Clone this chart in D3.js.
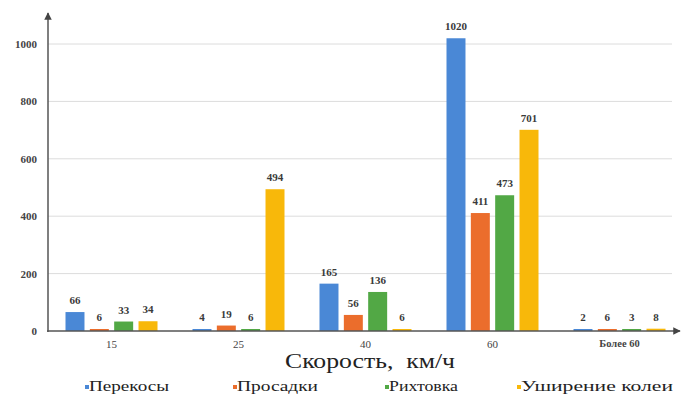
<!DOCTYPE html>
<html>
<head>
<meta charset="utf-8">
<script src="https://cdn.jsdelivr.net/npm/d3@7"></script>
<style>
  html, body { margin: 0; padding: 0; background: #fff; }
  svg { display: block; }
  svg text { font-family: "Liberation Serif", "Times New Roman", serif; }
</style>
</head>
<body>
<svg id="chart" width="683" height="396"></svg>
<script>
// Speed groups and defect counts per group
const categories = ["15", "25", "40", "60", "Более 60"];
const seriesNames = ["Перекосы", "Просадки", "Рихтовка", "Уширение колеи"];
const perekosy = [66, 4, 165, 1020, 2];
const prosadki = [6, 19, 56, 411, 6];
const rikhtovka = [33, 6, 136, 473, 3];
const ushirenie = [34, 494, 6, 701, 8];
const yTicks = [0, 200, 400, 600, 800, 1000];

const seriesValues = [perekosy, prosadki, rikhtovka, ushirenie];
const colors = ["#4a88d6", "#eb6d2c", "#52a845", "#f8b80a"];

const svg = d3.select("#chart");
const left = 48, right = 683, zeroY = 331, topY = 44;

const x = d3.scaleBand().domain(categories).range([left, right]).padding(0);
const inner = d3.scaleBand().domain(d3.range(4)).range([-46, 46]).paddingInner(0.22);
const y = d3.scaleLinear().domain([0, 1000]).range([zeroY, topY]);

// gridlines
svg.append("g")
  .selectAll("line")
  .data(yTicks.filter(d => d > 0))
  .join("line")
  .attr("x1", left).attr("x2", 672)
  .attr("y1", d => y(d)).attr("y2", d => y(d))
  .attr("stroke", "#dcdcdc").attr("stroke-width", 1);

// y tick labels
const yAxis = d3.axisLeft(y).tickValues(yTicks).tickFormat(d3.format("d")).tickSize(0).tickPadding(11);
const gy = svg.append("g").attr("transform", `translate(${left},0)`).call(yAxis);
gy.attr("font-family", null);
gy.select(".domain").remove();
gy.selectAll("text")
  .style("font-size", "11px")
  .style("font-weight", "bold")
  .attr("fill", "#444");

// bars
const groups = svg.append("g")
  .selectAll("g")
  .data(categories)
  .join("g")
  .attr("transform", d => `translate(${x(d) + x.bandwidth() / 2},0)`);

groups.selectAll("rect")
  .data((c, ci) => seriesValues.map((s, si) => ({ si, v: s[ci] })))
  .join("rect")
  .attr("x", d => inner(d.si))
  .attr("width", inner.bandwidth())
  .attr("y", d => Math.min(y(d.v), zeroY - 2))
  .attr("height", d => Math.max(zeroY - y(d.v), 2))
  .attr("fill", d => colors[d.si]);

// value labels
groups.selectAll("text")
  .data((c, ci) => seriesValues.map((s, si) => ({ si, v: s[ci] })))
  .join("text")
  .attr("x", d => inner(d.si) + inner.bandwidth() / 2)
  .attr("y", d => Math.min(y(d.v), zeroY - 2) - 8)
  .attr("text-anchor", "middle")
  .style("font-size", "11px")
  .style("font-weight", "bold")
  .attr("fill", "#3a3a3a")
  .text(d => d.v);

// axis lines with arrows
svg.append("defs").append("marker")
  .attr("id", "arrow")
  .attr("viewBox", "0 0 10 10")
  .attr("refX", 9).attr("refY", 5)
  .attr("markerWidth", 5).attr("markerHeight", 5)
  .attr("orient", "auto")
  .append("path").attr("d", "M0,0 L10,5 L0,10 z").attr("fill", "#444");

svg.append("line")
  .attr("x1", left).attr("x2", left)
  .attr("y1", zeroY + 1).attr("y2", 13)
  .attr("stroke", "#555").attr("stroke-width", 1.5)
  .attr("marker-end", "url(#arrow)");
svg.append("line")
  .attr("x1", left - 1).attr("x2", 680)
  .attr("y1", zeroY).attr("y2", zeroY)
  .attr("stroke", "#555").attr("stroke-width", 1.5)
  .attr("marker-end", "url(#arrow)");

// x category labels
const xAxis = d3.axisBottom(x).tickSize(0).tickPadding(9);
const gx = svg.append("g").attr("transform", `translate(0,${zeroY})`).call(xAxis);
gx.attr("font-family", null);
gx.select(".domain").remove();
gx.selectAll("text")
  .style("font-size", d => d === "Более 60" ? "10.5px" : "11px")
  .style("font-weight", d => d === "Более 60" ? "bold" : "normal")
  .attr("fill", "#444");

// axis title
svg.append("text")
  .attr("x", 285).attr("y", 368)
  .attr("textLength", 170)
  .attr("lengthAdjust", "spacingAndGlyphs")
  .style("font-size", "21px")
  .attr("fill", "#222")
  .attr("xml:space", "preserve")
  .text("Скорость,  км/ч");

// legend
const legendX = [85, 233, 385, 517];
const legendW = [80, 81, 69, 152];
const legend = svg.append("g")
  .selectAll("g")
  .data(seriesNames)
  .join("g")
  .attr("transform", (d, i) => `translate(${legendX[i]},391)`);
legend.append("rect")
  .attr("x", 0).attr("y", -6).attr("width", 4).attr("height", 4)
  .attr("fill", (d, i) => colors[i]);
legend.append("text")
  .attr("x", 4).attr("y", 0)
  .attr("textLength", (d, i) => legendW[i])
  .attr("lengthAdjust", "spacingAndGlyphs")
  .style("font-size", "15px")
  .attr("fill", "#222")
  .text(d => d);
</script>
</body>
</html>
